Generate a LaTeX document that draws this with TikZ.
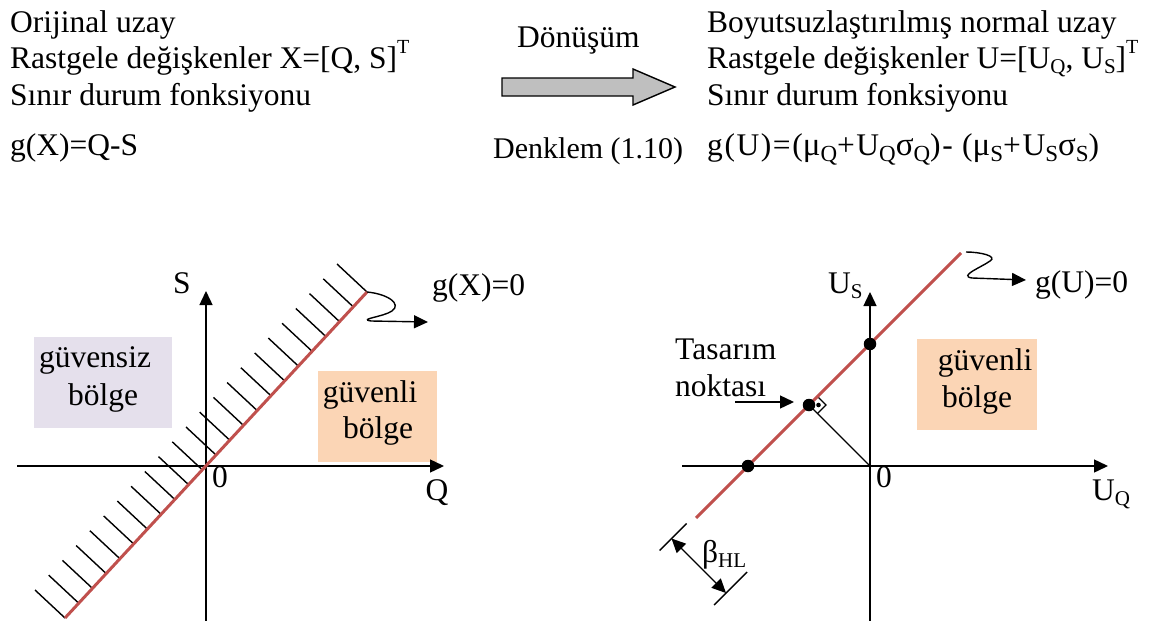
\documentclass[tikz,border=0pt]{standalone}
\usepackage{fontspec}
\setmainfont{Liberation Serif}
\usetikzlibrary{arrows.meta,calc}
\definecolor{redline}{HTML}{C0504D}
\definecolor{lav}{HTML}{E5E0EC}
\definecolor{peach}{HTML}{FBD5B5}
\newcommand\mysub[1]{\raisebox{-5pt}{\fontsize{21}{21}\selectfont #1}}
\newcommand\mybsub[1]{\raisebox{-6pt}{\fontsize{23}{23}\selectfont #1}}
\newcommand\mygr[1]{{\fontsize{33}{33}\selectfont #1}}
\newcommand\mysup[1]{\raisebox{15pt}{\fontsize{20}{20}\selectfont #1}}
\begin{document}
\begin{tikzpicture}[x=1pt,y=-1pt,
  txt/.style={font=\fontsize{31.5}{38}\selectfont, inner sep=0pt, anchor=base west},
  ctxt/.style={font=\fontsize{31.5}{38}\selectfont, inner sep=0pt, anchor=base},
  tip/.style={-{Triangle[length=14pt,width=13pt]}},
  axis/.style={line width=1.4pt, tip},
  thin/.style={line width=1.4pt},
  limit/.style={draw=redline, line width=3pt},
  dot/.style={circle, fill=black, inner sep=0pt, minimum size=12.5pt}
]
\useasboundingbox (0,0) rectangle (1151,621);
\fill[white] (0,0) rectangle (1151,621);

% ---------- top texts ----------
\node[txt] (l1) at (10,32) {Orijinal uzay};
\node[txt] (l2) at (10,68) {Rastgele değişkenler X=[Q, S]\mysup{T}};
\node[txt] (l3) at (10,105) {Sınır durum fonksiyonu};
\node[txt] (l4) at (10,155) {g(X)=Q-S};

\node[txt] (r1) at (707,32) {Boyutsuzlaştırılmış normal uzay};
\node[txt] (r2) at (707,68) {Rastgele değişkenler U=[U\mysub{Q}, U\mysub{S}]\mysup{T}};
\node[txt] (r3) at (707,105) {Sınır durum fonksiyonu};
\node[txt] (r4) at (707,155) {\addfontfeature{LetterSpace=5}g(U)=(\mygr{μ}\mybsub{Q}+U\mybsub{Q}\mygr{σ}\mybsub{Q})- (\mygr{μ}\mybsub{S}+U\mybsub{S}\mygr{σ}\mybsub{S})};

\node[txt] (don) at (517,47) {Dönüşüm};
\node[txt, font=\fontsize{30}{36}\selectfont] (denk) at (493,158) {Denklem (1.10)};
\draw[line width=1.4pt, fill=gray!50] (502,78) -- (633,78) -- (633,69) -- (675,87) -- (633,105) -- (633,96) -- (502,96) -- cycle;

% ---------- left graph ----------
\fill[lav] (34,337) rectangle (172,428);
\fill[peach] (318,371) rectangle (437,462);
\coordinate (lO) at (206,466);
\coordinate (lQs) at (17,466);
\coordinate (lQe) at (444,466);
\coordinate (lSs) at (206,621);
\coordinate (lSe) at (206,291);
\draw[axis] (lQs) -- (lQe);
\draw[axis] (lSs) -- (lSe);
\coordinate (lA) at (65,618);
\coordinate (lB) at (367,292);
\foreach \i in {0,...,22}{
  \draw[thin] ($(lA)!\i/22!(lB)$) -- ++(-30,-28);
}
\draw[limit] (lA) -- (lB);
\coordinate (lw1) at (392,311);
\coordinate (lw2) at (371,321);
\coordinate (lwe) at (428,322);
\draw[thin] (lB) .. controls (388,294) and (402,304) .. (lw1)
  .. controls (383,317) and (358,319) .. (lw2);
\draw[thin, tip] (lw2) -- (lwe);

\node[ctxt] (lS) at (182,293) {S};
\node[ctxt] (l0) at (220,487) {0};
\node[ctxt] (lQ) at (437,500) {Q};
\node[txt] (lg) at (432,295) {g(X)=0};
\node[ctxt] (lu1) at (95,367) {güvensiz};
\node[ctxt] (lu2) at (103,405) {bölge};
\node[ctxt] (ls1) at (370,402) {güvenli};
\node[ctxt] (ls2) at (378,438) {bölge};

% ---------- right graph ----------
\fill[peach] (917,339) rectangle (1037,430);
\coordinate (rO) at (870,466);
\coordinate (rQs) at (682,466);
\coordinate (rQe) at (1108,466);
\coordinate (rSs) at (870,621);
\coordinate (rSe) at (870,292);
\draw[axis] (rQs) -- (rQe);
\draw[axis] (rSs) -- (rSe);
\coordinate (rA) at (696,518);
\coordinate (rB) at (961,253);
\coordinate (rF) at (809,405);
% perpendicular and right angle mark
\draw[thin] (rF) -- (rO);
\draw[line width=1.2pt] ($(rF)+(8.5,-8.5)$) -- ++(8.5,8.5) -- ++(-8.5,8.5);
\fill ($(rF)+(9.5,0)$) circle (2.3pt);
\draw[limit] (rA) -- (rB);
\node[dot] (d1) at (748,466) {};
\node[dot] (d2) at (870,344) {};
\node[dot] (d3) at (rF) {};
% wavy arrow
\coordinate (rw0) at (966,252);
\coordinate (rw1) at (990,261);
\coordinate (rw2) at (972,278);
\coordinate (rwe) at (1026,280);
\draw[thin] (rw0) .. controls (980,252) and (998,256) .. (rw1)
  .. controls (982,267) and (958,276) .. (rw2);
\draw[thin, tip] (rw2) -- (rwe);

\node[txt] (rUS) at (828,293) {U\mysub{S}};
\node[ctxt] (r0) at (884,487) {0};
\node[txt] (rUQ) at (1092,500) {U\mysub{Q}};
\node[txt] (rg) at (1035,292) {g(U)=0};
\node[txt] (tas1) at (675,359) {Tasarım};
\node[txt] (tas2) at (675,396) {noktası};
\coordinate (ta) at (735,402);
\coordinate (tb) at (794,402);
\draw[thin, tip] (ta) -- (tb);
\node[ctxt] (rs1) at (985,370) {güvenli};
\node[ctxt] (rs2) at (977,407) {bölge};

% beta dimension
\coordinate (b1) at (671.5,538.5);
\coordinate (b2) at (726,593);
\draw[thin] ($(b1)+(-12,12)$) -- ($(b1)+(15,-15)$);
\draw[thin] ($(b2)+(-12,12)$) -- ($(b2)+(21,-21)$);
\draw[thin, {Triangle[length=14pt,width=13pt]}-{Triangle[length=14pt,width=13pt]}] (b1) -- (b2);
\node[txt] (beta) at (702,562) {β\mysub{HL}};
\end{tikzpicture}
\end{document}
